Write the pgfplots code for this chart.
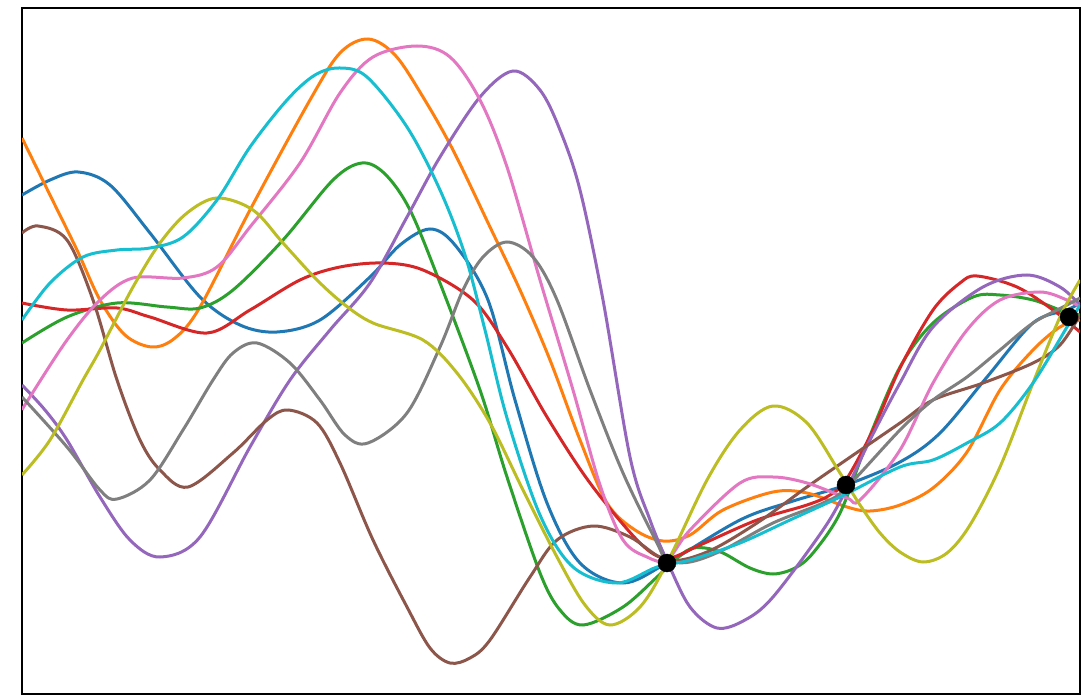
\documentclass[border=0pt]{standalone}
\usepackage{pgfplots}
\pgfplotsset{compat=1.18}
\definecolor{tabblue}{HTML}{1F77B4}
\definecolor{taborange}{HTML}{FF7F0E}
\definecolor{tabgreen}{HTML}{2CA02C}
\definecolor{tabred}{HTML}{D62728}
\definecolor{tabpurple}{HTML}{9467BD}
\definecolor{tabbrown}{HTML}{8C564B}
\definecolor{tabpink}{HTML}{E377C2}
\definecolor{tabgray}{HTML}{7F7F7F}
\definecolor{tabolive}{HTML}{BCBD22}
\definecolor{tabcyan}{HTML}{17BECF}
\begin{document}
\begin{tikzpicture}
\path[use as bounding box] (-22pt,0pt) rectangle (1069pt,694pt);
\begin{axis}[
  at={(0pt,0pt)}, anchor=south west,
  scale only axis, width=1058pt, height=686pt,
  xmin=22, xmax=1080, ymin=-694, ymax=-8,
  ticks=none,
  axis line style={black, line width=2pt},
  curve/.style={line width=3pt, smooth, tension=0.55, mark=none},
]
\addplot[curve, tabblue] coordinates {(22,-195) (50,-180) (78,-172) (110,-185) (150,-233) (200,-297) (240,-325) (277,-332) (320,-320) (370,-277) (400,-245) (430,-229) (455,-245) (488,-300) (515,-400) (547,-503) (580,-563) (623,-583) (667,-563) (740,-520) (790,-502) (846,-485) (900,-462) (940,-433) (987,-377) (1033,-323) (1067,-310) (1080,-303)};
\addplot[curve, taborange] coordinates {(22,-138) (50,-195) (77,-250) (100,-300) (125,-335) (152,-347) (175,-338) (200,-307) (250,-210) (310,-100) (340,-53) (368,-39) (395,-55) (423,-97) (453,-150) (490,-227) (520,-290) (550,-360) (580,-440) (607,-503) (635,-530) (663,-541) (690,-535) (723,-510) (773,-492) (807,-493) (847,-507) (870,-511) (900,-505) (933,-488) (967,-452) (1000,-390) (1033,-350) (1060,-327) (1080,-320)};
\addplot[curve, tabgreen] coordinates {(22,-343) (67,-317) (117,-303) (167,-307) (200,-308) (233,-290) (283,-240) (333,-180) (362,-163) (385,-174) (410,-210) (440,-283) (480,-390) (507,-477) (540,-573) (560,-610) (583,-625) (623,-607) (657,-577) (675,-560) (690,-549) (705,-548) (723,-553) (750,-568) (773,-574) (795,-568) (813,-553) (840,-513) (867,-443) (900,-367) (933,-323) (973,-297) (1000,-295) (1033,-300) (1060,-310) (1080,-315)};
\addplot[curve, tabred] coordinates {(22,-303) (67,-310) (117,-308) (150,-317) (207,-333) (250,-310) (300,-280) (340,-267) (383,-263) (423,-270) (473,-300) (507,-347) (547,-417) (590,-483) (640,-543) (667,-558) (700,-545) (757,-520) (807,-505) (830,-495) (846,-480) (873,-430) (900,-368) (933,-310) (960,-283) (977,-276) (1017,-287) (1053,-310) (1080,-332)};
\addplot[curve, tabpurple] coordinates {(22,-385) (45,-410) (67,-440) (100,-497) (130,-540) (160,-557) (200,-537) (250,-447) (290,-380) (330,-330) (370,-283) (407,-217) (440,-157) (480,-97) (513,-71) (540,-90) (560,-130) (580,-190) (603,-300) (630,-457) (650,-520) (668,-563) (690,-607) (717,-628) (745,-620) (773,-597) (823,-530) (846,-490) (870,-440) (900,-383) (933,-327) (983,-287) (1027,-275) (1060,-287) (1080,-305)};
\addplot[curve, tabbrown] coordinates {(22,-233) (38,-226) (67,-240) (93,-300) (117,-380) (140,-440) (160,-470) (188,-487) (233,-453) (267,-420) (288,-410) (317,-423) (340,-463) (373,-540) (407,-607) (430,-648) (450,-663) (470,-658) (490,-640) (530,-577) (557,-540) (593,-526) (630,-537) (667,-560) (707,-552) (757,-523) (807,-487) (846,-460) (900,-423) (933,-400) (983,-383) (1033,-363) (1060,-345) (1080,-315)};
\addplot[curve, tabpink] coordinates {(22,-410) (28,-400) (67,-340) (100,-300) (133,-278) (183,-278) (217,-267) (250,-227) (300,-163) (340,-93) (373,-57) (417,-46) (450,-57) (480,-100) (507,-167) (540,-280) (573,-390) (600,-485) (623,-540) (647,-557) (667,-560) (690,-530) (740,-483) (773,-477) (807,-483) (847,-498) (860,-500) (900,-450) (933,-383) (967,-330) (1000,-300) (1040,-292) (1067,-300) (1080,-307)};
\addplot[curve, tabgray] coordinates {(22,-397) (67,-447) (100,-490) (117,-499) (150,-480) (183,-430) (213,-380) (233,-353) (257,-343) (290,-363) (320,-400) (345,-435) (368,-443) (407,-413) (440,-347) (463,-290) (483,-257) (507,-242) (533,-257) (557,-300) (590,-390) (623,-473) (657,-543) (667,-560) (690,-562) (723,-550) (773,-523) (823,-503) (846,-488) (900,-430) (933,-400) (967,-377) (1000,-350) (1033,-323) (1067,-305) (1080,-298)};
\addplot[curve, tabolive] coordinates {(22,-475) (50,-440) (83,-380) (100,-350) (133,-287) (160,-243) (187,-213) (217,-198) (253,-210) (283,-243) (317,-280) (345,-305) (373,-323) (423,-340) (457,-373) (490,-423) (523,-490) (557,-557) (585,-605) (610,-625) (640,-607) (667,-563) (707,-480) (740,-430) (773,-406) (807,-423) (840,-473) (860,-505) (880,-533) (900,-552) (923,-562) (947,-553) (970,-525) (1000,-467) (1033,-383) (1060,-317) (1080,-280)};
\addplot[curve, tabcyan] coordinates {(22,-320) (50,-283) (83,-257) (117,-250) (150,-248) (183,-237) (217,-200) (250,-147) (287,-100) (315,-75) (340,-68) (367,-77) (407,-127) (440,-190) (465,-255) (485,-330) (507,-418) (540,-515) (573,-567) (617,-583) (657,-567) (690,-560) (740,-543) (790,-520) (840,-497) (900,-467) (933,-460) (967,-443) (1000,-423) (1033,-383) (1067,-327) (1080,-305)};
\addplot[only marks, mark=*, mark size=9pt, black, mark options={fill=black, draw=black}] coordinates {(667,-563) (846,-485) (1069,-317)};
\end{axis}
\end{tikzpicture}
\end{document}
